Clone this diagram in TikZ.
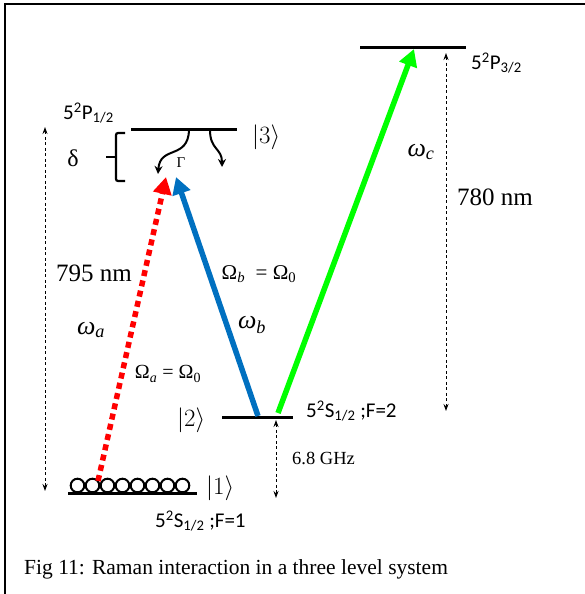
\documentclass[tikz,border=0pt]{standalone}
\usepackage{fontspec}
\setmainfont{Liberation Serif}
\newfontfamily\calib{Carlito}
\usetikzlibrary{arrows.meta}
\newcommand{\gsub}[1]{\textsubscript{#1}}
\begin{document}
\begin{tikzpicture}[x=1pt,y=-1pt,
  level/.style={line width=3pt},
  lbl/.style={inner sep=0pt,font=\calib\fontsize{21}{24}\selectfont},
  tim/.style={inner sep=0pt,font=\fontsize{24}{27}\selectfont},
  measure/.style={line width=0.9pt,dash pattern=on 3pt off 2.5pt,{Stealth[length=7pt,width=5pt]}-{Stealth[length=7pt,width=5pt]}},
  beam/.style={line width=5.5pt,-{Triangle[length=17pt,width=18pt]}},
  decay/.style={line width=2pt,-{Stealth[length=8pt,width=8pt]}},
  greek/.style={inner sep=0pt,font=\fontsize{26}{28}\selectfont}]
\useasboundingbox (0,0) rectangle (584,594);
% frame
\draw[line width=2.5pt] (5,596) -- (5,4) -- (586,4);
% levels
\coordinate (L3a) at (131,129); \coordinate (L3b) at (237,129);
\coordinate (L4a) at (360,48);  \coordinate (L4b) at (466,48);
\coordinate (L2a) at (222,417); \coordinate (L2b) at (293,417);
\coordinate (L1a) at (68,493);  \coordinate (L1b) at (197,493);
\draw[level] (L3a) -- (L3b);
\draw[level] (L4a) -- (L4b);
\draw[level] (L2a) -- (L2b);
\draw[level] (L1a) -- (L1b);
% atoms on level 1
\foreach \i in {0,...,7}{
  \draw[line width=2pt] (77.5+15*\i,485.5) circle (6.8);
}
% level labels
\node[lbl,anchor=west] (p12) at (63,113) {5\textsuperscript{2}P\textsubscript{1/2}};
\node[lbl,anchor=west] (p32) at (471,63) {5\textsuperscript{2}P\textsubscript{3/2}};
\node[lbl,anchor=west] (s2) at (306,411) {5\textsuperscript{2}S\textsubscript{1/2} ;F=2};
\node[lbl,anchor=west] (s1) at (155,521) {5\textsuperscript{2}S\textsubscript{1/2} ;F=1};
\node[tim,anchor=west] (k3) at (252,137) {$|3\rangle$};
\node[tim,anchor=west] (k2) at (177,420) {$|2\rangle$};
\node[tim,anchor=west] (k1) at (206,488) {$|1\rangle$};
% measures
\coordinate (mL1) at (45,127); \coordinate (mL2) at (45,491);
\draw[measure] (mL1) -- (mL2);
\coordinate (mR1) at (446,53); \coordinate (mR2) at (446,411);
\draw[measure] (mR1) -- (mR2);
\coordinate (mG1) at (276,420); \coordinate (mG2) at (276,498);
\draw[measure] (mG1) -- (mG2);
\node[tim,anchor=west,font=\fontsize{25}{27}\selectfont] (nm795) at (56,273) {795 nm};
\node[tim,anchor=west,font=\fontsize{25}{27}\selectfont] (nm780) at (457,197) {780 nm};
\node[anchor=west,inner sep=0pt,font=\fontsize{18.5}{20}\selectfont] (ghz) at (292,458) {6.8 GHz};
% brace and delta
\draw[line width=2.2pt,rounded corners=2pt] (125,133) -- (116,133) -- (116,181) -- (125,181);
\draw[line width=2.2pt] (116,157) -- (106,157);
\node[tim] (delta) at (73,158) {δ};
% decay
\coordinate (d1s) at (189,130); \coordinate (d1e) at (158,174);
\draw[decay] (d1s) .. controls (188,160) and (160,145) .. (d1e);
\coordinate (d2s) at (210,130); \coordinate (d2e) at (222,167);
\draw[decay] (d2s) .. controls (210,150) and (222,148) .. (d2e);
\node[inner sep=0pt,font=\fontsize{15}{16}\selectfont] (gam) at (181,163) {Γ};
% beams
\coordinate (ra) at (98,481); \coordinate (rb) at (166,177);
\draw[beam,red,dash pattern=on 6pt off 4.5pt] (ra) -- (rb);
\coordinate (ba) at (258,416); \coordinate (bb) at (176,177);
\draw[beam,color={rgb,255:red,0;green,112;blue,192}] (ba) -- (bb);
\coordinate (ga) at (278,413); \coordinate (gb) at (414,49);
\draw[beam,color={rgb,255:red,0;green,255;blue,0}] (ga) -- (gb);
% greek labels
\node[greek] (wa) at (91,330) {\textit{ω}\gsub{\textit{a}}};
\node[greek] (wb) at (252,325) {\textit{ω}\gsub{\textit{b}}};
\node[greek] (wc) at (421,152) {\textit{ω}\gsub{\textit{c}}};
\node[inner sep=0pt,font=\fontsize{20}{22}\selectfont] (Oa) at (168,374) {Ω\gsub{\textit{a}} = Ω\gsub{0}};
\node[inner sep=0pt,font=\fontsize{21}{23}\selectfont] (Ob) at (259,274) {Ω\gsub{\textit{b}}\ \ = Ω\gsub{0}};
% caption
\node[anchor=west,inner sep=0pt,font=\fontsize{21.5}{23}\selectfont] (cap) at (24,569) {Fig 11: Raman interaction in a three level system};
\end{tikzpicture}
\end{document}
